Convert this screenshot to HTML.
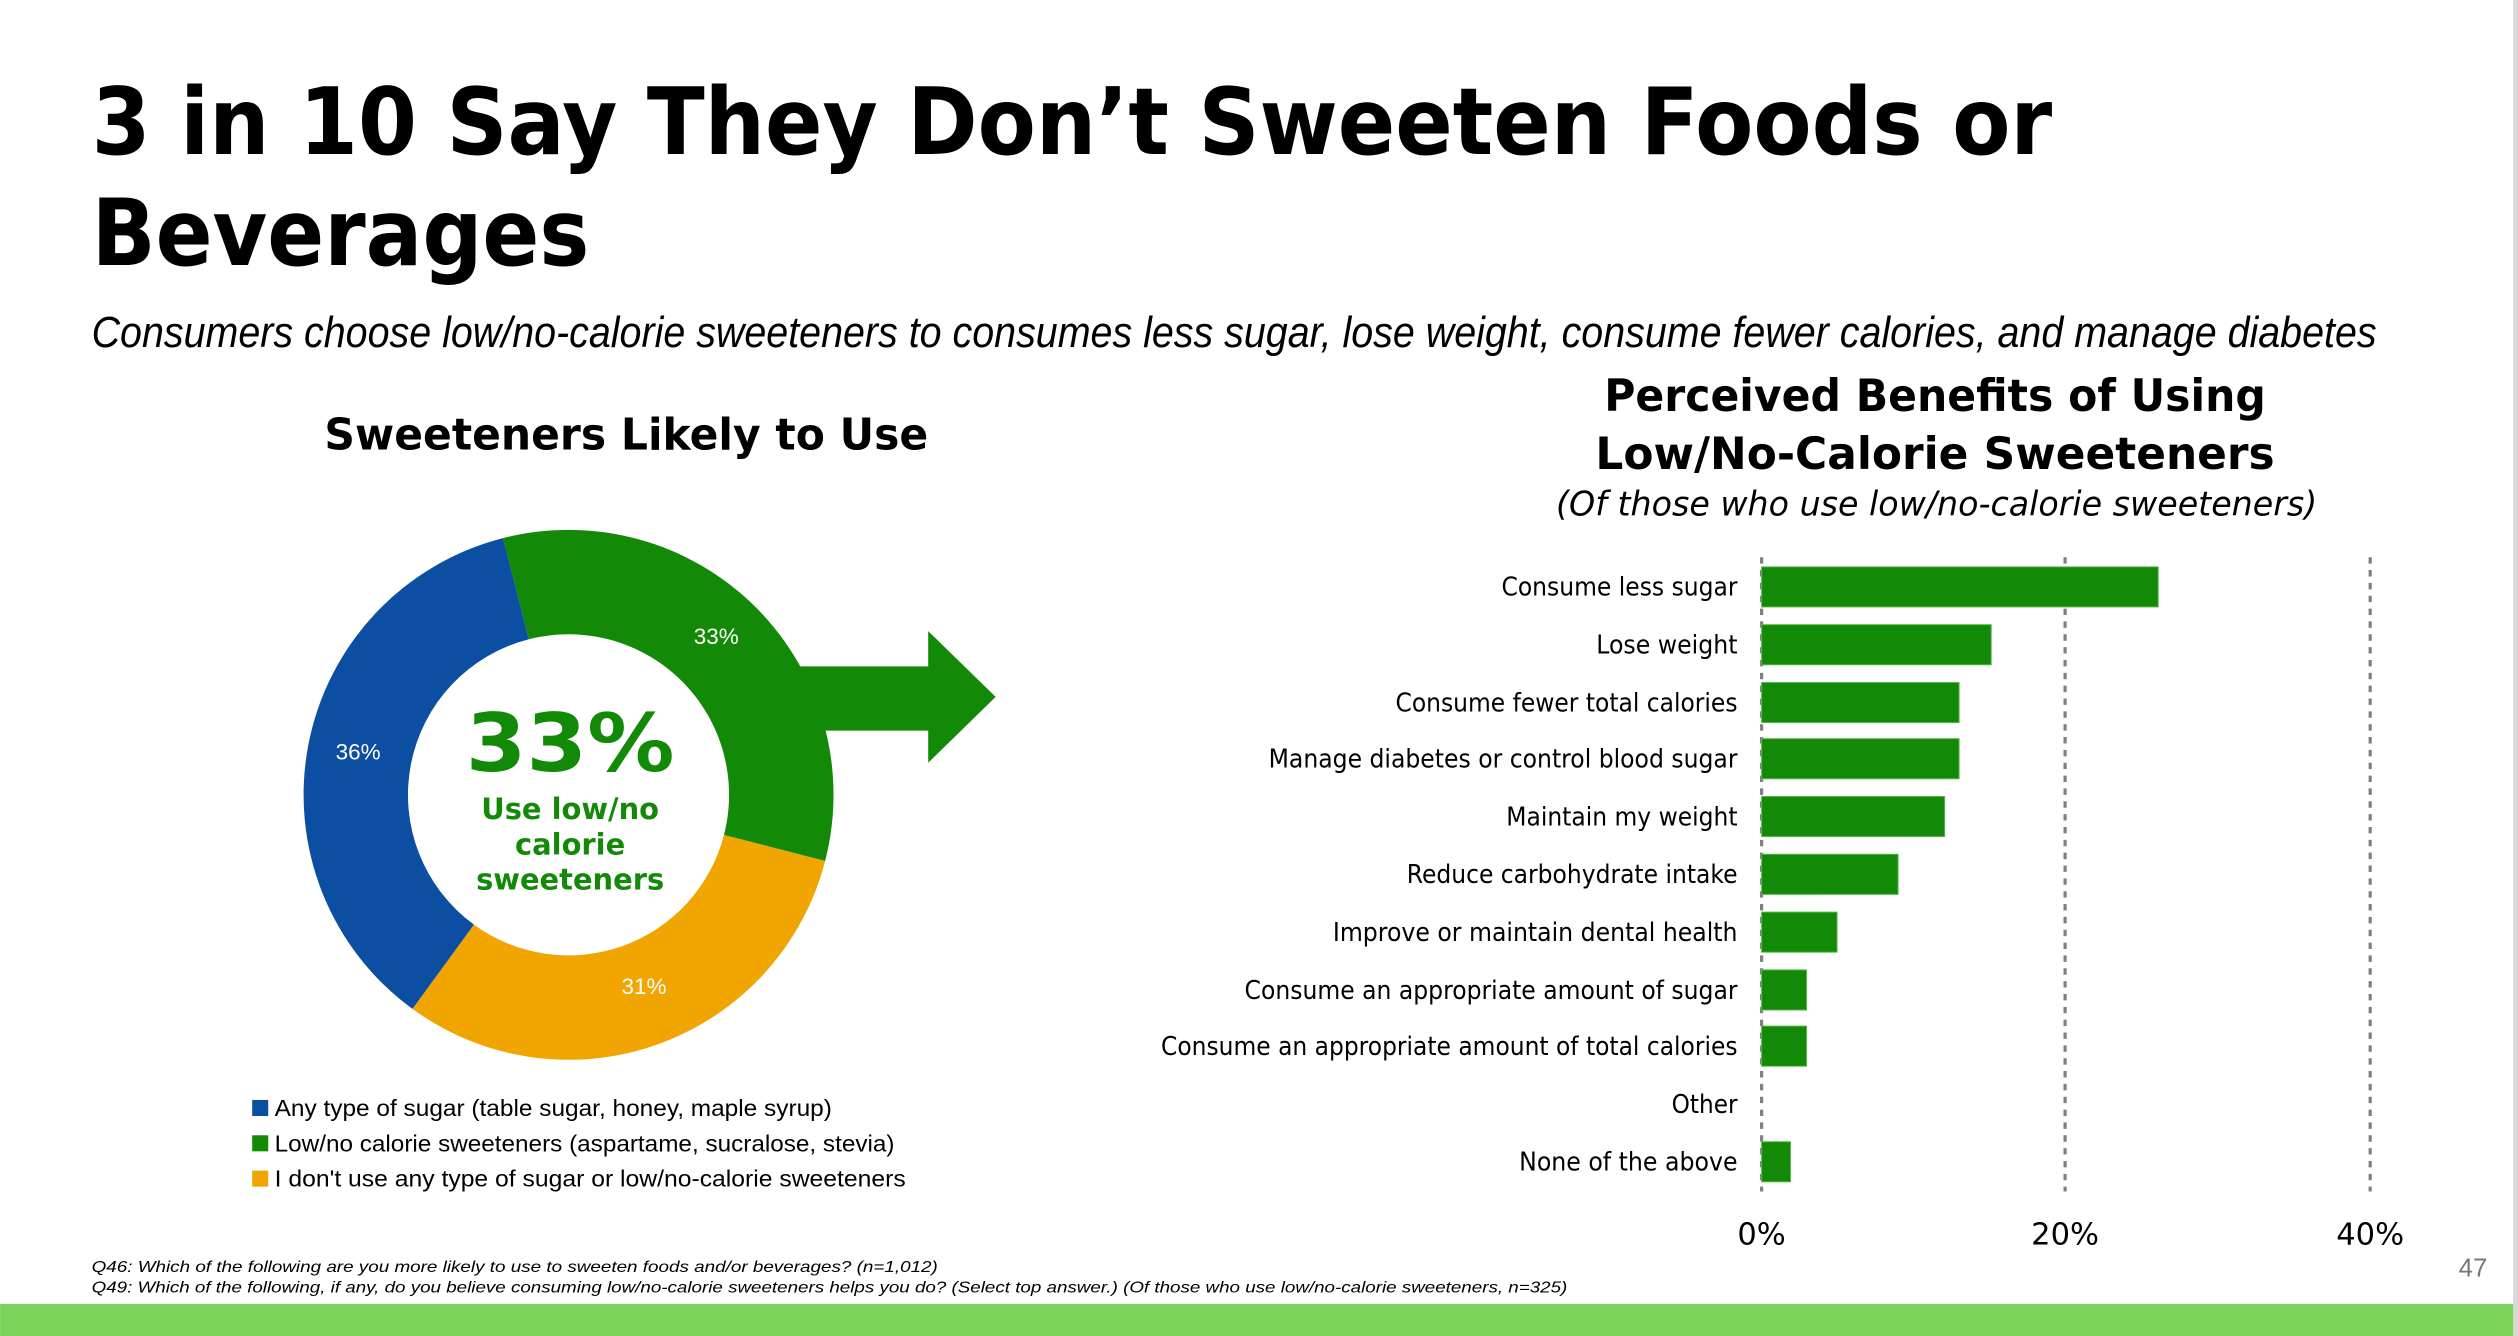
<!DOCTYPE html>
<html><head><meta charset="utf-8"><style>html,body{margin:0;padding:0;background:#fff}svg{display:block}</style></head>
<body>
<svg width="2518" height="1336" viewBox="0 0 1568 832" xmlns="http://www.w3.org/2000/svg">
<rect width="1568" height="832" fill="#fff"/>
<rect x="1565" y="0" width="3" height="832" fill="#d8d8d8"/>
<rect x="0" y="812" width="1565" height="20" fill="#7dd35a"/>
<g font-family="DejaVu Sans, sans-serif" font-weight="bold" fill="#000">
<text x="57" y="96" font-size="58" textLength="1221" lengthAdjust="spacingAndGlyphs">3 in 10 Say They Don’t Sweeten Foods or</text>
<text x="57" y="165" font-size="58" textLength="310" lengthAdjust="spacingAndGlyphs">Beverages</text>
</g>
<text x="57" y="216" font-family="Liberation Sans, sans-serif" font-style="italic" font-size="27" textLength="1423" lengthAdjust="spacingAndGlyphs">Consumers choose low/no-calorie sweeteners to consumes less sugar, lose weight, consume fewer calories, and manage diabetes</text>
<text x="390" y="280" text-anchor="middle" font-family="DejaVu Sans, sans-serif" font-weight="bold" font-size="27" textLength="376" lengthAdjust="spacingAndGlyphs">Sweeteners Likely to Use</text>
<!-- arrow -->
<polygon points="480,415 578,415 578,393 620,434 578,475 578,455 480,455" fill="#138a07"/>
<!-- donut -->
<g transform="translate(354,495)">
<path d="M -40.8,-159.9 A 165 165 0 0 1 159.8,41.2 L 96.8,25.0 A 100 100 0 0 0 -24.7,-96.9 Z" fill="#138a07"/>
<path d="M 159.8,41.2 A 165 165 0 0 1 -97.2,133.3 L -58.9,80.8 A 100 100 0 0 0 96.8,25.0 Z" fill="#f0a500"/>
<path d="M -97.2,133.3 A 165 165 0 0 1 -40.8,-159.9 L -24.7,-96.9 A 100 100 0 0 0 -58.9,80.8 Z" fill="#0b4ea2"/>
</g>
<g font-family="Liberation Sans, sans-serif" font-size="14" fill="#fff" text-anchor="middle">
<text x="446" y="401">33%</text><text x="223" y="473">36%</text><text x="401" y="619">31%</text>
</g>
<g font-family="DejaVu Sans, sans-serif" font-weight="bold" fill="#138a07" text-anchor="middle">
<text x="355" y="480" font-size="50" textLength="130" lengthAdjust="spacingAndGlyphs">33%</text>
<text x="355" y="510" font-size="18">Use low/no</text>
<text x="355" y="532" font-size="18">calorie</text>
<text x="355" y="554" font-size="18">sweeteners</text>
</g>
<g font-family="Liberation Sans, sans-serif" font-size="14.5" fill="#000">
<rect x="157" y="685" width="10" height="10" fill="#0b4ea2"/><text x="171" y="695" textLength="347" lengthAdjust="spacingAndGlyphs">Any type of sugar (table sugar, honey, maple syrup)</text>
<rect x="157" y="707" width="10" height="10" fill="#138a07"/><text x="171" y="717" textLength="386" lengthAdjust="spacingAndGlyphs">Low/no calorie sweeteners (aspartame, sucralose, stevia)</text>
<rect x="157" y="729" width="10" height="10" fill="#f0a500"/><text x="171" y="739" textLength="393" lengthAdjust="spacingAndGlyphs">I don't use any type of sugar or low/no-calorie sweeteners</text>
</g>
<g font-family="DejaVu Sans, sans-serif" font-weight="bold" font-size="28" text-anchor="middle">
<text x="1205" y="256" textLength="412" lengthAdjust="spacingAndGlyphs">Perceived Benefits of Using</text>
<text x="1205" y="292" textLength="423" lengthAdjust="spacingAndGlyphs">Low/No-Calorie Sweeteners</text>
</g>
<text x="1206" y="321" text-anchor="middle" font-family="DejaVu Sans, sans-serif" font-style="italic" font-size="21" textLength="474" lengthAdjust="spacingAndGlyphs">(Of those who use low/no-calorie sweeteners)</text>
<g stroke="#808080" stroke-width="2" stroke-dasharray="4,4">
<line x1="1097" y1="347" x2="1097" y2="742"/><line x1="1286" y1="347" x2="1286" y2="742"/><line x1="1476" y1="347" x2="1476" y2="742"/>
</g>
<g fill="#138a07" stroke="#5cb850" stroke-width="0.6">
<rect x="1097" y="353" width="247" height="25"/>
<rect x="1097" y="389" width="143" height="25"/>
<rect x="1097" y="425" width="123" height="25"/>
<rect x="1097" y="460" width="123" height="25"/>
<rect x="1097" y="496" width="114" height="25"/>
<rect x="1097" y="532" width="85" height="25"/>
<rect x="1097" y="568" width="47" height="25"/>
<rect x="1097" y="604" width="28" height="25"/>
<rect x="1097" y="639" width="28" height="25"/>
<rect x="1097" y="711" width="18" height="25"/>
</g>
<g font-family="DejaVu Sans, sans-serif" font-size="16" text-anchor="end" fill="#000">
<text x="1082" y="371" textLength="147" lengthAdjust="spacingAndGlyphs">Consume less sugar</text>
<text x="1082" y="407" textLength="88" lengthAdjust="spacingAndGlyphs">Lose weight</text>
<text x="1082" y="443" textLength="213" lengthAdjust="spacingAndGlyphs">Consume fewer total calories</text>
<text x="1082" y="478" textLength="292" lengthAdjust="spacingAndGlyphs">Manage diabetes or control blood sugar</text>
<text x="1082" y="514" textLength="144" lengthAdjust="spacingAndGlyphs">Maintain my weight</text>
<text x="1082" y="550" textLength="206" lengthAdjust="spacingAndGlyphs">Reduce carbohydrate intake</text>
<text x="1082" y="586" textLength="252" lengthAdjust="spacingAndGlyphs">Improve or maintain dental health</text>
<text x="1082" y="622" textLength="307" lengthAdjust="spacingAndGlyphs">Consume an appropriate amount of sugar</text>
<text x="1082" y="657" textLength="359" lengthAdjust="spacingAndGlyphs">Consume an appropriate amount of total calories</text>
<text x="1082" y="693" textLength="41" lengthAdjust="spacingAndGlyphs">Other</text>
<text x="1082" y="729" textLength="136" lengthAdjust="spacingAndGlyphs">None of the above</text>
</g>
<g font-family="DejaVu Sans, sans-serif" font-size="19" text-anchor="middle" fill="#000">
<text x="1097" y="775">0%</text><text x="1286" y="775">20%</text><text x="1476" y="775">40%</text>
</g>
<text x="1540" y="795" text-anchor="middle" font-family="Liberation Sans, sans-serif" font-size="16" fill="#777">47</text>
<g font-family="Liberation Sans, sans-serif" font-style="italic" font-size="10" fill="#000">
<text x="57" y="792" textLength="527" lengthAdjust="spacingAndGlyphs">Q46: Which of the following are you more likely to use to sweeten foods and/or beverages? (n=1,012)</text>
<text x="57" y="805" textLength="919" lengthAdjust="spacingAndGlyphs">Q49: Which of the following, if any, do you believe consuming low/no-calorie sweeteners helps you do? (Select top answer.) (Of those who use low/no-calorie sweeteners, n=325)</text>
</g>
</svg>
</body></html>
